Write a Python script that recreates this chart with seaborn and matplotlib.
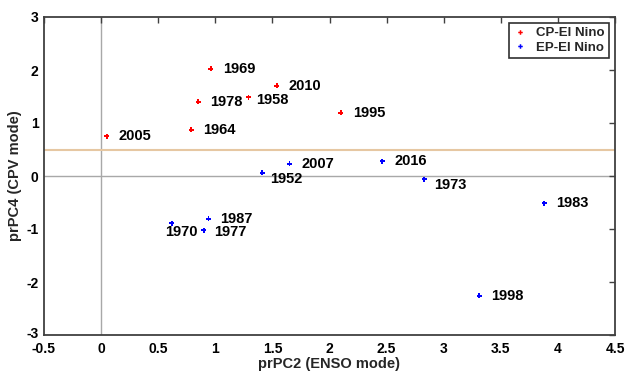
import seaborn as sns
import matplotlib.pyplot as plt
import matplotlib.transforms as mtransforms
import pandas as pd

sns.set_style("white")
plt.rcParams['font.family'] = ['Liberation Sans', 'DejaVu Sans']
plt.rcParams['font.weight'] = 'bold'
plt.rcParams['axes.unicode_minus'] = False

# CP-El Nino years
cp_years = ['2005', '1964', '1978', '1969', '1958', '2010', '1995']
cp_pc2 = [0.05, 0.79, 0.85, 0.96, 1.29, 1.54, 2.10]
cp_pc4 = [0.75, 0.87, 1.40, 2.02, 1.49, 1.70, 1.19]

# EP-El Nino years
ep_years = ['1952', '2007', '2016', '1973', '1983', '1998', '1970', '1977', '1987']
ep_pc2 = [1.41, 1.65, 2.46, 2.83, 3.88, 3.31, 0.62, 0.90, 0.94]
ep_pc4 = [0.06, 0.23, 0.28, -0.06, -0.51, -2.26, -0.89, -1.02, -0.81]

# label offsets in pixels (where the year text sits next to its marker)
label_offsets = {'1958': (8, -3), '1952': (8, -6), '1973': (10, -6),
                 '1970': (-7, -9), '1977': (10, -2)}

df = pd.DataFrame({
    'pc2': cp_pc2 + ep_pc2,
    'pc4': cp_pc4 + ep_pc4,
    'year': cp_years + ep_years,
    'type': ['CP-El Nino'] * len(cp_years) + ['EP-El Nino'] * len(ep_years),
})

fig = plt.figure(figsize=(6.27, 3.72), dpi=100)
ax = fig.add_axes([44 / 627, 1 - 335 / 372, 571 / 627, 318 / 372])

ax.axvline(0, color='#a8a8a8', lw=1, zorder=0)
ax.axhline(0, color='#a8a8a8', lw=1, zorder=0)
ax.axhline(0.5, color='#e6c7a2', lw=1.5, zorder=0)

sns.scatterplot(data=df, x='pc2', y='pc4', hue='type', palette=['#ff0000', '#0000ff'],
                marker='P', s=13, edgecolor='none', ax=ax, zorder=3)

for i, row in df.iterrows():
    dx, dy = label_offsets.get(row['year'], (12, 0))
    ax.annotate(row['year'], (row['pc2'], row['pc4']), xytext=(dx, dy),
                textcoords='offset pixels', ha='left', va='center',
                fontsize=10.5, fontweight='bold', color='black')

ax.set_xlim(-0.5, 4.5)
ax.set_ylim(-3, 3)
ax.set_xticks([-0.5, 0, 0.5, 1, 1.5, 2, 2.5, 3, 3.5, 4, 4.5])
ax.set_xticklabels(['-0.5', '0', '0.5', '1', '1.5', '2', '2.5', '3', '3.5', '4', '4.5'])
ax.set_yticks([-3, -2, -1, 0, 1, 2, 3])
ax.set_xlabel('prPC2 (ENSO mode)', fontsize=10.5, fontweight='bold', labelpad=0.5)
ax.set_ylabel('prPC4 (CPV mode)', fontsize=10.5, fontweight='bold', labelpad=3)
ax.tick_params(direction='in', length=4, width=1, colors='#404040', labelcolor='black',
               labelsize=10, top=True, right=True)
ax.tick_params(axis='x', pad=5)
ax.tick_params(axis='y', pad=4)
for sp in ax.spines.values():
    sp.set_color('#404040')
    sp.set_linewidth(1.3)

# nudge the bottom y tick label up a little so it clears "-0.5"
lowest = ax.get_yticklabels()[0]
lowest.set_transform(lowest.get_transform() +
                     mtransforms.ScaledTranslation(0, 3 / 100, fig.dpi_scale_trans))

handles, labels = ax.get_legend_handles_labels()
leg = ax.legend(handles, labels, loc='upper right', bbox_to_anchor=(0.989, 0.981),
                borderaxespad=0, fancybox=False, edgecolor='#303030', framealpha=1,
                fontsize=9.5, handlelength=1.2, handletextpad=0.6, borderpad=0.3,
                labelspacing=0.2, markerscale=0.9)
leg.get_frame().set_linewidth(1.2)
for t in leg.get_texts():
    t.set_fontweight('bold')

fig.savefig('out.png', dpi=100)
